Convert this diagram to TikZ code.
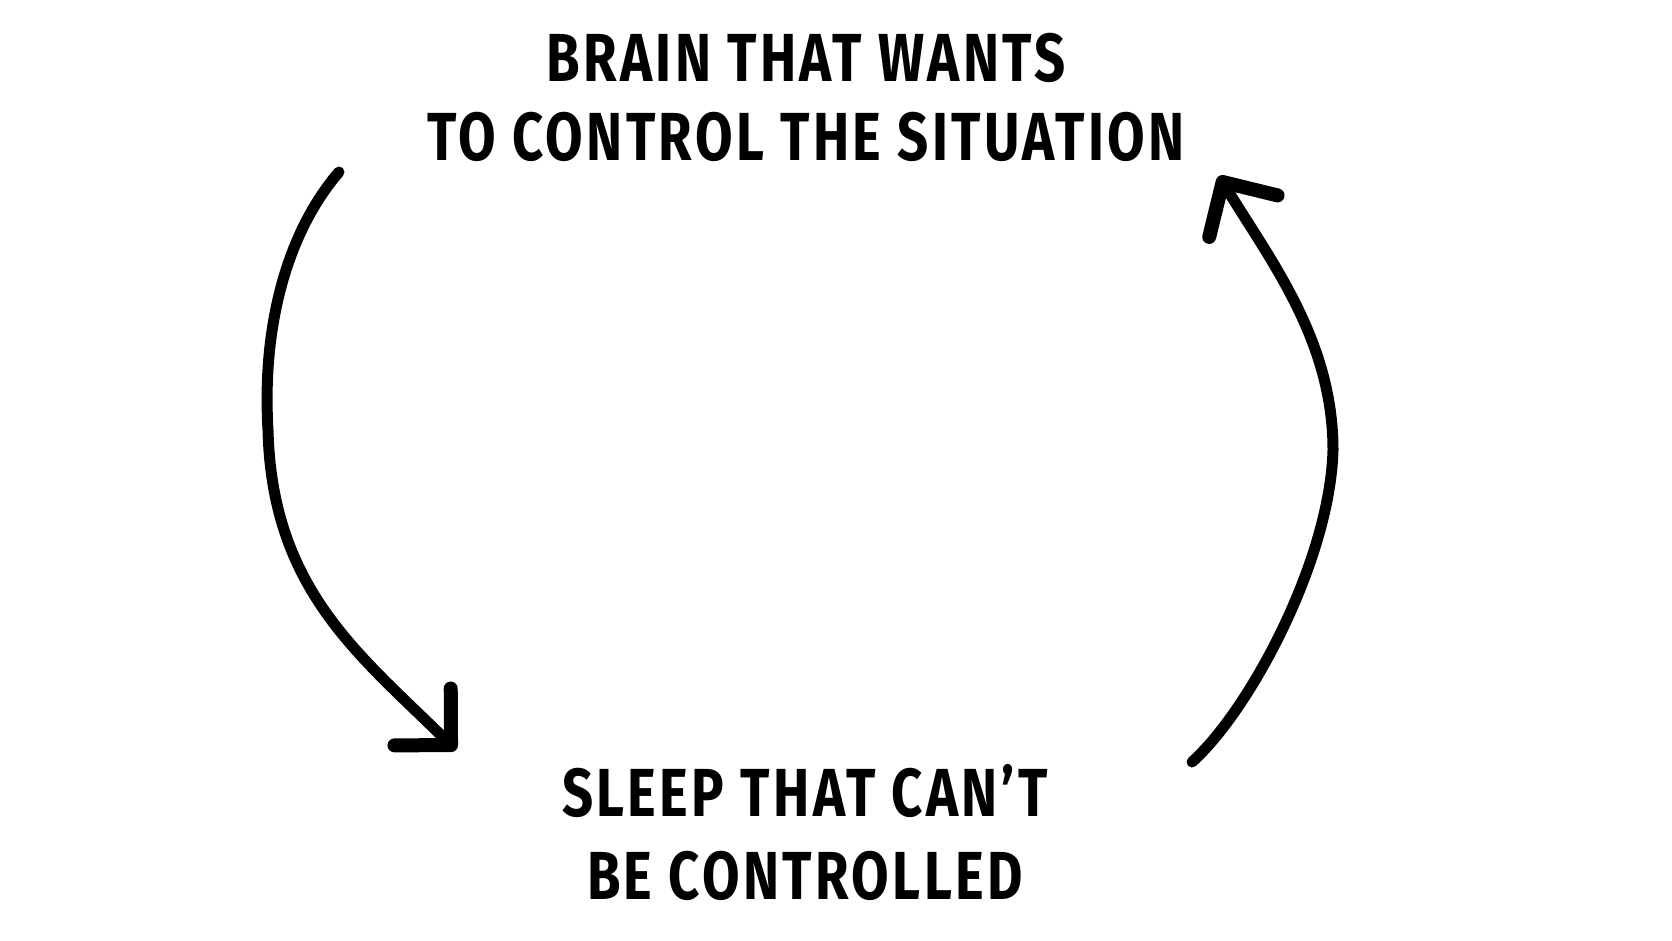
\documentclass[tikz,border=0pt]{standalone}
\usepackage{fontspec}
\setmainfont{Fira Sans}[FakeStretch=0.8, LetterSpace=5]
\usepackage{tikz}
\usetikzlibrary{arrows.meta,positioning}
\tikzset{
label text/.style={font=\fontsize{68}{74}\selectfont\bfseries, inner sep=0pt, anchor=base}, % the caps lettering
loop line/.style={line width=11pt, line cap=round, line join=round}, % the hand drawn strokes
loop tip/.style={-{Straight Barb[length=#1, width=2*#1, line width=14pt, round]}},
}

\begin{document}
\begin{tikzpicture}[x=1pt,y=-1pt]
    \useasboundingbox (0,0) rectangle (1672,941);
    \node[label text] (brain1) at (806,82) {BRAIN THAT WANTS};
    \node[label text] (brain2) [below=79pt of brain1.base, anchor=base] {TO CONTROL THE SITUATION};
    \node[label text] (sleep1) at (805,816) {SLEEP THAT CAN'T};
    \node[label text] (sleep2) [below=83pt of sleep1.base, anchor=base] {BE CONTROLLED};
    % free ends of the two loops
    \coordinate (ls) at (339,172);
    \coordinate (lm) at (268,430);
    \coordinate (le) at (456,750);
    \coordinate (rs) at (1192,762);
    \coordinate (rm) at (1333,450);
    \coordinate (re) at (1219,176);
    \draw[loop line, loop tip=40pt] (ls) .. controls (285,235) and (262,330) .. (lm)
        .. controls (272,590) and (360,655) .. (le);
    \draw[loop line, loop tip=40pt] (rs) .. controls (1250,710) and (1330,560) .. (rm)
        .. controls (1333,340) and (1270,260) .. (re);
\end{tikzpicture}
\end{document}
